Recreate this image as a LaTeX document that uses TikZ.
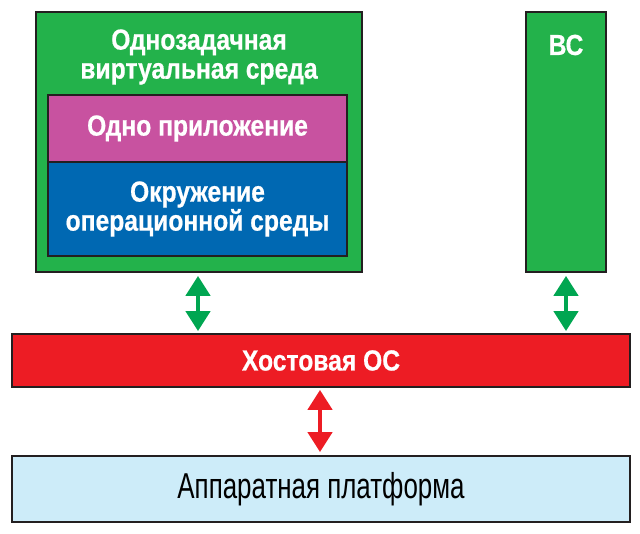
\documentclass[tikz,border=0pt]{standalone}
\usepackage{fontspec}
\setmainfont{Liberation Sans}
\newfontfamily\boldnarrow{Liberation Sans Bold}[FakeStretch=0.85, FakeBold=0.6]
\newfontfamily\plainnarrow{Liberation Sans}[FakeStretch=0.72]
\usetikzlibrary{arrows.meta}
\definecolor{vmgreen}{RGB}{35,178,75}
\definecolor{arrowgreen}{RGB}{0,166,81}
\definecolor{appmagenta}{RGB}{200,82,160}
\definecolor{envblue}{RGB}{0,104,178}
\definecolor{hostred}{RGB}{237,28,36}
\definecolor{hwblue}{RGB}{205,236,249}
\definecolor{edge}{RGB}{35,31,32}
\begin{document}
\begin{tikzpicture}
    [x=1pt, y=1pt,
     layer/.style={draw=edge, line width=1.8pt, inner sep=0pt},
     label text/.style={text=white, font=\boldnarrow\fontsize{29}{29}\selectfont, align=center},
     link/.style={line width=4.5pt, {Triangle[length=20pt,width=24pt]}-{Triangle[length=20pt,width=24pt]}}]
    \useasboundingbox (0,0) rectangle (640,534);
    % single-task virtual environment
    \node[layer, fill=vmgreen, minimum width=326pt, minimum height=260pt] (vm) at (199,392) {};
    \node[label text] (vmtitle) at (199,477) {Однозадачная\\виртуальная среда};
    \node[layer, fill=appmagenta, minimum width=299pt, minimum height=67pt] (app) at (197.5,405.5) {};
    \node[label text] at (app) {Одно приложение};
    \node[layer, fill=envblue, minimum width=299pt, minimum height=94pt] (env) at (197.5,325) {};
    \node[label text] at (env) {Окружение\\операционной среды};
    % other virtual environment
    \node[layer, fill=vmgreen, minimum width=80pt, minimum height=260pt] (vs) at (566,392) {};
    \node[label text] (vstitle) at (566,489) {ВС};
    % host OS and hardware
    \node[layer, fill=hostred, minimum width=618pt, minimum height=53pt] (host) at (321,173.5) {};
    \node[label text] at (host) {Хостовая ОС};
    \node[layer, fill=hwblue, minimum width=618pt, minimum height=66pt] (hw) at (321,45) {};
    \node[font=\plainnarrow\fontsize{36}{40}\selectfont] at (hw) {Аппаратная платформа};
    % links
    \draw[link, arrowgreen, shorten <=3pt, shorten >=2pt] (vm.south -| 198,0) -- (host.north -| 198,0);
    \draw[link, arrowgreen, shorten <=3pt, shorten >=2pt] (vs.south) -- (host.north -| vs.south);
    \draw[link, hostred, shorten <=2pt, shorten >=3pt] (host.south -| 320,0) -- (hw.north -| 320,0);
\end{tikzpicture}
\end{document}
